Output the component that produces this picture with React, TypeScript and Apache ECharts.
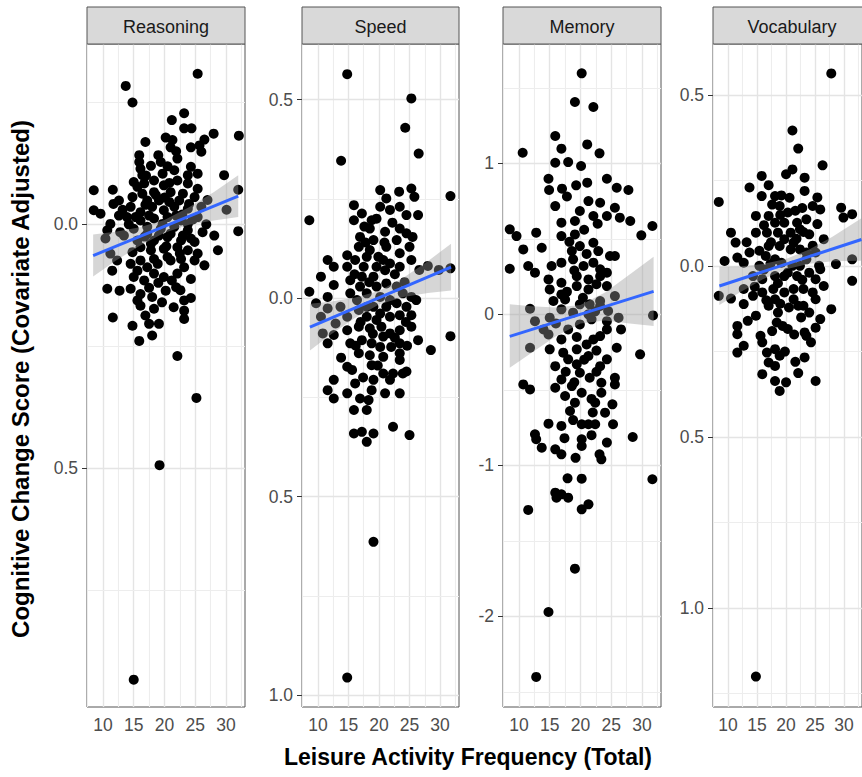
import React, { useEffect, useRef } from "react";
import * as echarts from "echarts";

type Pt = [number, number];

const panelNames = ["Reasoning", "Speed", "Memory", "Vocabulary"];
const xTickValues = [10, 15, 20, 25, 30];
const xMajorGrid = [10, 15, 20, 25, 30];
const xMinorGrid = [7.5, 12.5, 17.5, 22.5, 27.5, 32.5];
const xRange: Pt = [7.4, 33.1];

const yRanges: Pt[] = [[-0.99, 0.37], [-1.03, 0.64], [-2.6, 1.79], [-1.29, 0.65]];
const yTickValues = [[-0.5, 0], [-1, -0.5, 0, 0.5], [-2, -1, 0, 1], [-1, -0.5, 0, 0.5]];
const yMinorGrid = [[-0.75, -0.25, 0.25], [-0.75, -0.25, 0.25], [-2.5, -1.5, -0.5, 0.5, 1.5], [-1.25, -0.75, -0.25, 0.25]];

const reasoningPoints: Pt[] = [
  [25.4,0.309],[13.7,0.284],[14.8,0.250],[23.2,0.228],[21.2,0.214],[23.2,0.197],[24.4,0.197],[28.0,0.186],[32.1,0.182],
  [16.9,0.169],[20.2,0.178],[21.3,0.173],[21.0,0.158],[26.5,0.174],[25.7,0.162],[24.3,0.158],[26.0,0.149],[19.0,0.142],
  [15.9,0.142],[22.1,0.135],[15.9,0.128],[16.1,0.114],[16.4,0.101],[20.5,0.119],[19.7,0.104],[21.6,0.111],[24.3,0.118],
  [23.8,0.101],[25.4,0.104],[29.7,0.101],[15.0,0.087],[16.7,0.084],[18.3,0.090],[19.9,0.080],[22.1,0.090],[23.8,0.084],
  [25.4,0.073],[8.5,0.070],[11.6,0.071],[14.8,0.056],[16.4,0.063],[18.3,0.066],[21.0,0.066],[23.0,0.063],[24.9,0.056],
  [32.0,0.071],[12.6,0.049],[11.7,0.042],[14.5,0.036],[16.1,0.025],[18.0,0.036],[19.9,0.029],[21.6,0.036],[23.8,0.032],
  [26.0,0.036],[30.1,0.030],[8.5,0.029],[9.6,0.022],[12.6,0.018],[11.2,0.001],[13.9,0.015],[16.1,0.008],[18.3,0.012],
  [20.5,0.015],[22.7,0.008],[25.4,0.015],[10.7,-0.012],[12.8,-0.016],[15.0,-0.009],[17.2,-0.005],[19.4,-0.009],[21.6,-0.005],
  [23.8,-0.012],[26.2,-0.016],[28.1,-0.023],[32.0,-0.014],[10.4,-0.029],[13.4,-0.023],[15.6,-0.033],[18.3,-0.033],[20.5,-0.026],
  [22.7,-0.033],[24.9,-0.036],[11.2,-0.060],[12.3,-0.074],[14.8,-0.057],[16.1,-0.047],[17.8,-0.053],[19.9,-0.050],[22.1,-0.047],
  [23.8,-0.053],[25.4,-0.060],[28.7,-0.053],[11.5,-0.095],[14.5,-0.081],[15.6,-0.095],[17.2,-0.088],[18.9,-0.081],[21.0,-0.074],
  [23.2,-0.088],[24.9,-0.074],[26.5,-0.084],[15.0,-0.108],[16.7,-0.115],[18.3,-0.101],[19.9,-0.108],[22.1,-0.101],[24.3,-0.112],
  [10.7,-0.132],[12.7,-0.136],[14.5,-0.132],[16.1,-0.143],[18.0,-0.149],[20.2,-0.136],[21.9,-0.129],[23.2,-0.156],[24.3,-0.151],
  [15.6,-0.156],[16.1,-0.167],[18.3,-0.173],[23.2,-0.177],[23.2,-0.194],[11.6,-0.191],[14.8,-0.208],[16.9,-0.187],[17.5,-0.204],
  [19.1,-0.204],[15.9,-0.239],[18.0,-0.228],[22.1,-0.270],
  [15.6,0.077],[17.2,0.049],[19.1,0.049],[20.8,0.046],[22.4,0.049],[24.0,0.042],[17.2,-0.019],[19.1,-0.023],[21.0,-0.019],
  [23.0,-0.023],[24.3,-0.029],[16.1,-0.074],[18.3,-0.071],[20.5,-0.067],[22.7,-0.071],[15.3,0.015],[17.5,0.018],[19.7,0.001],
  [21.9,0.018],[23.8,0.001],
  [17.8,0.120],[19.4,0.128],[21.9,0.150],[17.0,0.100],[20.8,0.085],[18.6,0.060],[20.0,0.055],[16.9,0.040],[22.9,0.020],
  [24.6,0.010],[17.8,-0.040],[20.3,-0.045],[22.5,-0.060],[19.0,-0.120],[21.2,-0.115],[17.5,-0.130],[22.6,-0.135],[19.6,-0.160],
  [21.5,-0.170],[16.8,-0.025],[14.2,0.000],[13.2,0.030],[26.8,0.000],[27.0,0.050],
  [25.2,-0.356],[19.2,-0.494],[15.0,-0.934],
];

const speedPoints: Pt[] = [
  [13.8,0.346],[31.7,0.257],[8.6,0.196],[20.2,0.272],[23.3,0.268],[25.3,0.276],[25.8,0.255],[21.2,0.251],[20.2,0.230],
  [21.8,0.222],[23.4,0.230],[15.9,0.234],[17.2,0.213],[15.9,0.196],[18.8,0.196],[24.5,0.209],[26.4,0.209],[18.5,0.175],
  [21.0,0.167],[16.9,0.154],[19.1,0.146],[23.4,0.175],[24.5,0.163],[25.5,0.154],[22.9,0.146],[21.2,0.129],[16.7,0.129],
  [18.5,0.121],[14.8,0.108],[19.9,0.104],[23.4,0.113],[25.0,0.129],[11.6,0.096],[12.6,0.079],[10.5,0.054],[12.6,0.033],
  [14.8,0.079],[16.1,0.096],[17.5,0.079],[19.6,0.079],[21.8,0.087],[23.4,0.079],[25.3,0.096],[26.6,0.071],[28.0,0.081],
  [29.8,0.071],[31.7,0.075],[8.6,0.016],[9.7,-0.013],[11.6,0.003],[11.6,-0.026],[13.7,-0.022],[15.3,0.045],[15.3,0.012],
  [17.2,0.054],[19.1,0.054],[21.2,0.037],[22.9,0.029],[23.9,0.012],[25.3,0.003],[26.1,-0.005],[16.4,-0.005],[18.0,0.012],
  [20.2,0.003],[21.8,-0.005],[22.9,-0.013],[10.5,-0.047],[10.8,-0.089],[11.6,-0.114],[12.6,-0.093],[12.9,-0.064],[14.8,-0.047],
  [16.7,-0.030],[18.0,-0.047],[19.1,-0.022],[20.2,-0.039],[21.8,-0.047],[23.4,-0.043],[24.5,-0.022],[25.3,-0.043],[25.3,-0.072],
  [26.4,-0.106],[28.5,-0.131],[31.7,-0.096],[14.8,-0.081],[16.7,-0.072],[18.5,-0.076],[20.4,-0.072],[21.8,-0.089],[23.4,-0.081],
  [15.3,-0.114],[17.2,-0.106],[18.8,-0.114],[20.2,-0.123],[22.0,-0.123],[23.4,-0.114],[16.7,-0.139],[18.5,-0.144],[20.7,-0.148],
  [23.4,-0.139],[23.4,-0.156],[14.8,-0.173],[15.6,-0.181],[16.1,-0.215],[18.8,-0.169],[19.1,-0.206],[18.8,-0.232],[20.7,-0.190],
  [21.8,-0.206],[22.3,-0.190],[23.4,-0.240],[23.9,-0.190],[24.5,-0.185],[12.6,-0.206],[11.6,-0.232],[12.6,-0.253],[14.8,-0.240],
  [16.9,-0.253],[18.3,-0.257],[15.9,-0.282],[18.0,-0.282],[15.9,-0.341],[17.2,-0.337],[19.1,-0.341],[18.0,-0.362],[22.3,-0.324],
  [25.0,-0.345],
  [18.0,0.104],[20.7,0.096],[19.6,0.029],[18.0,-0.022],[21.2,-0.022],[19.6,-0.055],[16.9,0.029],[20.7,-0.097],
  [17.6,0.180],[19.6,0.200],[22.2,0.190],[20.9,0.140],[17.8,0.140],[16.0,0.060],[18.4,0.040],[21.0,0.070],[22.6,0.060],
  [24.2,0.040],[17.0,-0.060],[19.0,-0.090],[22.6,-0.100],[24.4,-0.060],[16.2,-0.120],[19.8,-0.170],[17.4,-0.200],[21.0,-0.240],
  [13.8,-0.150],[24.6,-0.120],
  [14.8,0.564],[25.3,0.503],[24.3,0.429],[26.5,0.364],[19.1,-0.614],[14.8,-0.956],
];

const memoryPoints: Pt[] = [
  [20.2,1.596],[19.1,1.406],[22.1,1.373],
  [15.9,1.181],[10.6,1.070],[16.9,1.097],[21.1,1.125],[23.1,1.066],[15.9,1.004],[18.0,1.008],[20.1,0.982],[14.8,0.898],
  [24.3,0.898],[19.3,0.854],[21.1,0.872],[14.9,0.823],[17.0,0.832],[25.9,0.838],[27.8,0.823],[15.9,0.717],[19.9,0.684],
  [21.3,0.750],[23.2,0.739],[22.1,0.651],[24.3,0.651],[25.6,0.706],[26.4,0.640],[28.1,0.618],[16.9,0.607],[19.1,0.618],
  [16.9,0.518],[19.1,0.529],[8.5,0.563],[9.6,0.518],[12.8,0.541],[29.9,0.523],[31.7,0.585],[22.1,0.474],[10.7,0.430],
  [13.7,0.441],[18.6,0.419],[19.9,0.452],[22.9,0.419],[24.8,0.386],[25.6,0.386],[8.5,0.302],[11.5,0.320],[12.6,0.276],
  [15.3,0.320],[16.9,0.342],[18.8,0.364],[20.5,0.320],[22.1,0.342],[23.2,0.298],[24.3,0.276],[14.8,0.231],[16.9,0.209],
  [19.4,0.253],[21.3,0.231],[23.2,0.253],[21.3,0.165],[15.0,0.165],[16.9,0.132],[19.4,0.187],[24.3,0.187],[15.6,0.088],
  [17.5,0.099],[19.9,0.066],[21.5,0.066],[23.2,0.088],[25.6,0.121],[11.8,0.037],[12.6,-0.045],[15.0,-0.022],[16.9,0.033],
  [18.8,0.011],[21.3,0.000],[23.2,0.055],[24.5,0.022],[26.2,-0.022],[31.8,-0.007],[11.8,-0.221],[14.0,-0.100],[14.8,-0.133],
  [18.0,-0.100],[19.9,-0.067],[21.8,-0.033],[24.3,-0.045],[15.0,-0.232],[16.9,-0.166],[17.2,-0.254],[19.4,-0.232],[21.0,-0.199],
  [22.1,-0.166],[23.2,-0.144],[24.3,-0.100],[25.9,-0.221],[29.7,-0.265],[15.9,-0.343],[18.0,-0.298],[19.4,-0.331],[21.3,-0.276],
  [23.2,-0.343],[24.3,-0.298],[25.6,-0.420],[25.6,-0.464],[10.7,-0.464],[11.8,-0.497],[15.9,-0.486],[16.9,-0.431],[18.6,-0.475],
  [19.9,-0.387],[21.5,-0.420],[23.4,-0.453],[17.5,-0.541],[20.2,-0.519],[23.4,-0.519],
  [18.3,-0.640],[19.1,-0.585],[22.4,-0.585],[24.0,-0.651],[25.2,-0.596],[25.3,-0.728],[14.8,-0.724],[16.9,-0.739],[20.2,-0.728],
  [21.3,-0.728],[22.4,-0.728],[12.6,-0.794],[12.8,-0.827],[13.7,-0.883],[15.9,-0.894],[16.9,-0.927],[20.2,-0.827],[20.2,-0.872],
  [24.3,-0.849],[23.1,-0.927],[23.4,-0.960],[28.5,-0.812],[31.7,-1.092],[17.9,-1.086],[20.2,-1.088],[15.9,-1.181],[16.1,-1.214],
  [16.9,-1.192],[18.0,-1.214],[20.2,-1.291],[21.3,-1.258],[11.5,-1.295],
  [17.8,0.780],[22.8,0.600],[20.6,0.560],[18.2,0.480],[21.0,0.400],[19.0,0.290],[22.6,0.200],[17.8,0.150],[20.4,0.110],
  [22.4,0.020],[16.0,-0.060],[19.4,-0.150],[22.6,-0.240],[20.6,-0.300],[17.6,-0.380],[22.6,-0.380],[19.0,-0.450],[21.8,-0.560],
  [18.8,-0.700],[21.8,-0.800],[17.4,-0.820],[19.2,-0.950],[22.0,-0.650],[26.6,-0.100],
  [19.1,-1.684],[14.8,-1.971],[12.8,-2.401],
];

const vocabularyPoints: Pt[] = [
  [27.8,0.564],[21.1,0.397],[22.1,0.344],[26.3,0.295],[20.0,0.269],[21.1,0.283],[23.2,0.259],[15.8,0.264],[17.0,0.237],
  [13.7,0.230],[15.8,0.205],[18.1,0.205],[19.2,0.207],[23.2,0.220],[8.4,0.188],[25.4,0.201],[29.5,0.171],[29.9,0.142],
  [31.4,0.152],[18.9,0.176],[20.3,0.157],[21.6,0.162],[24.6,0.176],[25.9,0.166],[14.8,0.147],[17.0,0.147],[18.1,0.127],
  [19.7,0.127],[21.9,0.127],[23.5,0.137],[25.4,0.123],[10.5,0.098],[11.3,0.069],[14.8,0.098],[16.7,0.098],[18.6,0.098],
  [20.8,0.098],[22.4,0.108],[24.0,0.093],[26.5,0.079],[9.4,0.015],[11.6,0.025],[12.7,0.010],[13.7,0.040],[15.4,0.045],
  [17.0,0.059],[18.9,0.059],[20.8,0.049],[22.4,0.049],[23.5,0.040],[25.1,0.040],[28.6,0.006],[31.4,0.020],[15.4,0.001],
  [17.3,0.006],[19.2,0.010],[21.1,0.001],[23.5,0.020],[25.7,0.001],[25.9,-0.009],[8.4,-0.087],[10.5,-0.095],[12.7,-0.111],
  [12.7,-0.067],[14.3,-0.029],[15.9,-0.038],[18.1,-0.029],[20.3,-0.019],[21.9,-0.029],[24.0,-0.019],[25.1,-0.038],[26.5,-0.058],
  [31.4,-0.043],[14.3,-0.087],[15.9,-0.077],[17.8,-0.067],[19.7,-0.077],[21.3,-0.067],[23.0,-0.067],[24.6,-0.077],[25.1,-0.097],
  [27.8,-0.126],[14.8,-0.145],[17.0,-0.116],[18.6,-0.136],[20.5,-0.121],[22.1,-0.116],[24.0,-0.136],[25.9,-0.155],[25.1,-0.180],
  [11.6,-0.175],[11.6,-0.199],[12.7,-0.233],[11.6,-0.253],[15.6,-0.204],[15.9,-0.223],[18.4,-0.165],[19.4,-0.175],[20.3,-0.184],
  [23.2,-0.194],[23.5,-0.204],[24.3,-0.223],[16.7,-0.253],[18.1,-0.243],[18.9,-0.262],[17.0,-0.282],[18.1,-0.292],[23.2,-0.267],
  [15.9,-0.316],[18.1,-0.336],[20.0,-0.340],[22.1,-0.313],[25.1,-0.336],[18.9,-0.365],
  [19.7,0.079],[21.3,0.069],[18.1,0.020],[22.4,0.001],[19.7,-0.029],[18.1,-0.097],[21.3,-0.097],[23.0,-0.116],[16.5,0.030],
  [17.6,0.180],[20.6,0.200],[22.8,0.170],[16.2,0.120],[19.0,0.150],[23.0,0.100],[17.4,0.070],[21.8,0.080],[24.6,0.060],
  [13.2,0.070],[16.2,-0.010],[18.6,-0.050],[22.8,-0.040],[14.6,-0.060],[16.6,-0.100],[19.0,-0.110],[22.6,-0.150],[17.6,-0.190],
  [21.4,-0.200],[19.8,-0.250],[21.6,-0.280],[13.4,-0.160],
  [14.8,-1.201],
];

const fitLines: Pt[][] = [
  [[8.4, -0.064], [32.0, 0.058]],
  [[8.7, -0.073], [31.8, 0.078]],
  [[8.5, -0.146], [31.9, 0.152]],
  [[8.5, -0.058], [33.0, 0.078]],
];

const bandX = [
  [8.4, 12, 16, 20, 24, 28, 32],
  [8.7, 12, 16, 20, 24, 28, 31.8],
  [8.5, 12, 16, 20, 24, 28, 31.9],
  [8.5, 12, 16, 20, 24, 28, 33],
];
const bandLow = [
  [-0.107, -0.075, -0.044, -0.017, -0.001, 0.008, 0.015],
  [-0.132, -0.093, -0.051, -0.016, 0.003, 0.013, 0.019],
  [-0.354, -0.256, -0.145, -0.060, -0.040, -0.060, -0.078],
  [-0.114, -0.077, -0.038, -0.009, 0.007, 0.014, 0.016],
];
const bandHigh = [
  [-0.021, -0.015, -0.006, 0.009, 0.035, 0.066, 0.101],
  [-0.014, -0.009, 0.001, 0.018, 0.051, 0.093, 0.137],
  [0.066, 0.054, 0.045, 0.062, 0.144, 0.264, 0.382],
  [-0.002, -0.001, 0.006, 0.021, 0.049, 0.086, 0.140],
];

const allPoints = [reasoningPoints, speedPoints, memoryPoints, vocabularyPoints];

// layout (pixels)
const gridLefts = [87, 302, 503, 713];
const gridWidths = [158, 157, 158, 158];
const gridTop = 44;
const gridHeight = 663;
const stripTop = 7;
const FONT = "'Liberation Sans', Arial, Helvetica, sans-serif";

export default function App() {
  const ref = useRef<HTMLDivElement>(null);

  useEffect(() => {
    document.body.style.margin = "0";
    if (!ref.current) return;
    const chart = echarts.init(ref.current, null, { renderer: "svg" });

    const grids = gridLefts.map((l, i) => ({
      left: l,
      top: gridTop,
      width: gridWidths[i],
      height: gridHeight,
      show: true,
      backgroundColor: "transparent",
      borderColor: "#555",
      borderWidth: 1,
    }));

    const xAxes = panelNames.map((_, i) => ({
      gridIndex: i,
      type: "value",
      min: xRange[0],
      max: xRange[1],
      axisLine: { show: false },
      axisTick: { show: true, length: 5, lineStyle: { color: "#333", width: 1 }, customValues: xTickValues },
      axisLabel: { customValues: xTickValues, color: "#4d4d4d", fontSize: 17.5, margin: 9, fontFamily: FONT },
      splitLine: { show: false },
    }));

    const yAxes = panelNames.map((_, i) => ({
      gridIndex: i,
      type: "value",
      min: yRanges[i][0],
      max: yRanges[i][1],
      axisLine: { show: false },
      axisTick: { show: true, length: 5, lineStyle: { color: "#333", width: 1 }, customValues: yTickValues[i] },
      axisLabel: {
        customValues: yTickValues[i],
        color: "#4d4d4d",
        fontSize: 17.5,
        margin: 9,
        fontFamily: FONT,
        formatter: (v: number) => (i === 2 ? String(Math.round(v)) : Math.abs(v).toFixed(1)),
      },
      splitLine: { show: false },
    }));

    const series: any[] = [];
    panelNames.forEach((_, i) => {
      const major = { color: "#e4e4e4", width: 1.4, type: "solid" };
      const minor = { color: "#ededed", width: 1.1, type: "solid" };
      const gridLines = [
        ...xMinorGrid.map((v) => ({ xAxis: v, lineStyle: minor })),
        ...xMajorGrid.map((v) => ({ xAxis: v, lineStyle: major })),
        ...yMinorGrid[i].map((v) => ({ yAxis: v, lineStyle: minor })),
        ...yTickValues[i].map((v) => ({ yAxis: v, lineStyle: major })),
      ];
      series.push({
        type: "scatter",
        xAxisIndex: i,
        yAxisIndex: i,
        data: allPoints[i],
        symbolSize: 10,
        itemStyle: { color: "#000", opacity: 1 },
        z: 2,
        silent: true,
        markLine: {
          silent: true,
          z: 1,
          symbol: ["none", "none"],
          label: { show: false },
          emphasis: { disabled: true },
          animation: false,
          data: gridLines,
        },
      });
      const bx = bandX[i];
      const lo = bandLow[i];
      const hi = bandHigh[i];
      series.push({
        type: "custom",
        xAxisIndex: i,
        yAxisIndex: i,
        z: 3,
        silent: true,
        data: [[bx[0], lo[0]]],
        renderItem: (params: any, api: any) => {
          if (params.dataIndex !== 0) return null;
          const up = bx.map((x, k) => api.coord([x, hi[k]]));
          const dn = bx.map((x, k) => api.coord([x, lo[k]])).reverse();
          return {
            type: "polygon",
            shape: { points: up.concat(dn) },
            style: { fill: "rgba(153,153,153,0.4)" },
          };
        },
      });
      series.push({
        type: "line",
        xAxisIndex: i,
        yAxisIndex: i,
        data: fitLines[i],
        symbol: "none",
        z: 4,
        silent: true,
        lineStyle: { color: "#3366FF", width: 3 },
      });
    });

    const graphics: any[] = [];
    panelNames.forEach((name, i) => {
      graphics.push({
        type: "rect",
        shape: { x: gridLefts[i], y: stripTop, width: gridWidths[i], height: gridTop - stripTop },
        style: { fill: "#d9d9d9", stroke: "#555", lineWidth: 1 },
        z: 10,
      });
      graphics.push({
        type: "text",
        x: gridLefts[i] + gridWidths[i] / 2,
        y: (stripTop + gridTop) / 2 + 1,
        style: {
          text: name,
          textAlign: "center",
          textVerticalAlign: "middle",
          fontSize: 18,
          fontFamily: FONT,
          fill: "#1a1a1a",
        },
        z: 11,
      });
    });
    graphics.push({
      type: "text",
      x: 20,
      y: 379,
      rotation: Math.PI / 2,
      style: {
        text: "Cognitive Change Score (Covariate Adjusted)",
        textAlign: "center",
        textVerticalAlign: "middle",
        fontSize: 24,
        fontWeight: "bold",
        fontFamily: FONT,
        fill: "#000",
      },
    });
    graphics.push({
      type: "text",
      x: 468,
      y: 757,
      style: {
        text: "Leisure Activity Frequency (Total)",
        textAlign: "center",
        textVerticalAlign: "middle",
        fontSize: 23,
        fontWeight: "bold",
        fontFamily: FONT,
        fill: "#000",
      },
    });

    chart.setOption({
      animation: false,
      backgroundColor: "#ffffff",
      grid: grids,
      xAxis: xAxes,
      yAxis: yAxes,
      series,
      graphic: graphics,
    } as any);

    return () => chart.dispose();
  }, []);

  return <div ref={ref} style={{ width: 862, height: 777 }} />;
}
